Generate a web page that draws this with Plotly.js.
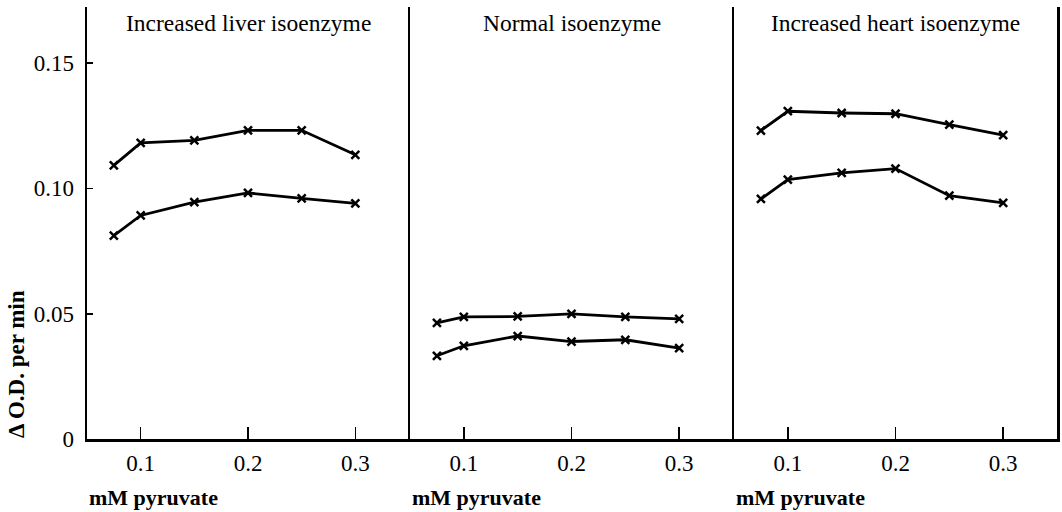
<!DOCTYPE html>
<html>
<head>
<meta charset="utf-8">
<script src="https://cdn.plot.ly/plotly-3.0.1.min.js"></script>
<style>html,body{margin:0;padding:0;background:#fff;}#chart{width:1062px;height:512px;}</style>
</head>
<body>
<div id="chart"></div>
<script>
// mM pyruvate concentrations
const pyruvate = [0.075, 0.1, 0.15, 0.2, 0.25, 0.3];

// Panel titles
const panelTitles = ["Increased liver isoenzyme", "Normal isoenzyme", "Increased heart isoenzyme"];

// ΔO.D. per min, upper and lower curves of each panel
const liverUpper = [0.1092, 0.1182, 0.1192, 0.1232, 0.1232, 0.1134];
const liverLower = [0.0812, 0.0892, 0.0945, 0.0982, 0.0960, 0.0940];
const normalUpper = [0.0463, 0.0487, 0.0489, 0.0499, 0.0487, 0.0479];
const normalLower = [0.0332, 0.0372, 0.0411, 0.0389, 0.0396, 0.0363];
const heartUpper = [0.1231, 0.1308, 0.1301, 0.1298, 0.1255, 0.1213];
const heartLower = [0.0958, 0.1035, 0.1062, 0.1079, 0.0971, 0.0942];

const xTicks = [0.1, 0.2, 0.3];
const xTickText = ["0.1", "0.2", "0.3"];
const yTicks = [0, 0.05, 0.10, 0.15];
const yTickText = ["0", "0.05", "0.10", "0.15"];

const xTitle = "mM pyruvate";
const yTitle = "\u0394 O.D. per min";

const serif = "Liberation Serif, Times New Roman, serif";

function series(y, xa, ya) {
  return {
    x: pyruvate, y: y, xaxis: xa, yaxis: ya,
    type: "scatter", mode: "lines+markers",
    line: {color: "#000", width: 2.8},
    marker: {symbol: "x-thin-open", size: 8, color: "#000", line: {color: "#000", width: 2.5}},
    hoverinfo: "x+y", showlegend: false
  };
}

const data = [
  series(liverUpper, "x", "y"), series(liverLower, "x", "y"),
  series(normalUpper, "x2", "y2"), series(normalLower, "x2", "y2"),
  series(heartUpper, "x3", "y3"), series(heartLower, "x3", "y3")
];

const W = 1062, H = 512;
const yDom = [(H - 439) / H, (H - 7) / H];
const xDoms = [[87 / W, 409 / W], [410 / W, 733 / W], [734 / W, 1057 / W]];

function xaxis(i) {
  return {
    domain: xDoms[i], range: [0.05, 0.35], anchor: i === 0 ? "y" : "y" + (i + 1),
    tickmode: "array", tickvals: xTicks, ticktext: xTickText,
    ticks: "inside", ticklen: 12, tickwidth: 1.6, tickcolor: "#000",
    showline: true, linecolor: "#000", linewidth: 2.5,
    showgrid: false, zeroline: false,
    tickfont: {family: serif, size: 23, color: "#000"},
    ticklabelstandoff: 2, fixedrange: true
  };
}
function yaxis(i) {
  const a = {
    domain: yDom, range: [0, 0.1724], anchor: i === 0 ? "x" : "x" + (i + 1),
    showline: true, linecolor: "#000", linewidth: 2.5,
    showgrid: false, zeroline: false, fixedrange: true
  };
  if (i === 0) {
    Object.assign(a, {
      tickmode: "array", tickvals: yTicks, ticktext: yTickText,
      ticks: "inside", ticklen: 6, tickwidth: 1.6, tickcolor: "#000",
      tickfont: {family: serif, size: 23, color: "#000"}, ticklabelstandoff: 6
    });
  } else {
    Object.assign(a, {showticklabels: false, ticks: ""});
  }
  if (i === 2) a.mirror = true;
  return a;
}

const annotations = [];
panelTitles.forEach((t, i) => {
  const xr = i === 0 ? "x domain" : "x" + (i + 1) + " domain";
  annotations.push({
    text: t, xref: xr, x: 0.5, xanchor: "center",
    yref: "paper", y: (H - 23) / H, yanchor: "middle",
    showarrow: false, font: {family: serif, size: 23.5, color: "#000"}
  });
  annotations.push({
    text: xTitle, xref: xr, x: 0, xanchor: "left",
    yref: "paper", y: (H - 497) / H, yanchor: "middle",
    showarrow: false, font: {family: serif, size: 22, color: "#000", weight: "bold"}
  });
});
annotations.push({
  text: yTitle, xref: "paper", x: 16 / W, xanchor: "center",
  yref: "paper", y: (H - 364) / H, yanchor: "middle", textangle: -90,
  showarrow: false, font: {family: serif, size: 23, color: "#000", weight: "bold"}
});

const layout = {
  width: W, height: H,
  margin: {l: 0, r: 0, t: 0, b: 0},
  paper_bgcolor: "#fff", plot_bgcolor: "#fff",
  showlegend: false,
  xaxis: xaxis(0), xaxis2: xaxis(1), xaxis3: xaxis(2),
  yaxis: yaxis(0), yaxis2: yaxis(1), yaxis3: yaxis(2),
  annotations: annotations
};

Plotly.newPlot("chart", data, layout, {displayModeBar: false, staticPlot: true});
</script>
</body>
</html>
